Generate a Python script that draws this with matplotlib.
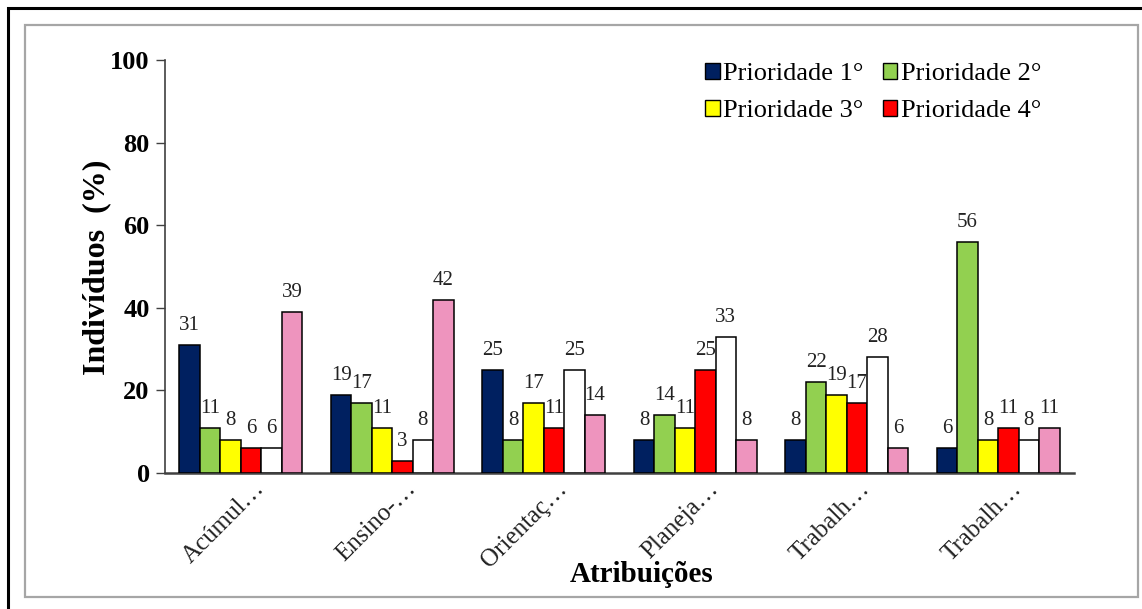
import matplotlib
matplotlib.use("Agg")
import matplotlib.pyplot as plt
import matplotlib.transforms as mtransforms
from matplotlib.patches import Rectangle, Patch
import numpy as np

# Data
categories = ["Acúmul…", "Ensino-…", "Orientaç…", "Planeja…", "Trabalh…", "Trabalh…"]
prioridade_1 = [31, 19, 25, 8, 8, 6]
prioridade_2 = [11, 17, 8, 14, 22, 56]
prioridade_3 = [8, 11, 17, 11, 19, 8]
prioridade_4 = [6, 3, 11, 25, 17, 11]
serie_5 = [6, 8, 25, 33, 28, 8]
serie_6 = [39, 42, 14, 8, 6, 11]
series_names = ["Prioridade 1°", "Prioridade 2°", "Prioridade 3°", "Prioridade 4°"]
y_ticks = [0, 20, 40, 60, 80, 100]

series = [prioridade_1, prioridade_2, prioridade_3, prioridade_4, serie_5, serie_6]
colors = ["#002060", "#92D050", "#FFFF00", "#FF0000", "#FFFFFF", "#EE94BE"]

W, H = 1142, 609
DPI = 100
plt.rcParams["font.family"] = ["Liberation Serif", "DejaVu Serif"]

fig = plt.figure(figsize=(W / DPI, H / DPI), dpi=DPI)
fig.patch.set_facecolor("white")


def fx(px):
    return px / W


def fy(py):
    return 1 - py / H


# Outer frames
fig.add_artist(Rectangle((fx(8), fy(640)), fx(1200), fy(8) - fy(640),
                         transform=fig.transFigure, fill=False,
                         edgecolor="black", linewidth=2.2))
fig.add_artist(Rectangle((fx(25), fy(597)), fx(1138) - fx(25), fy(25) - fy(597),
                         transform=fig.transFigure, fill=False,
                         edgecolor="#A6A6A6", linewidth=1.6))

ax = fig.add_axes([fx(165), fy(473), fx(1074) - fx(165), fy(60) - fy(473)])

x = np.arange(len(categories))
bar_w = 0.135
n = len(series)
for i, (vals, c) in enumerate(zip(series, colors)):
    pos = x + (i - (n - 1) / 2) * bar_w
    bars = ax.bar(pos, vals, width=bar_w, color=c, edgecolor="black",
                  linewidth=1.1, zorder=3)
    for b, v in zip(bars, vals):
        ax.annotate(f"{v}", (b.get_x() + b.get_width() / 2, v),
                    xytext=(0, 15), textcoords="offset pixels",
                    ha="center", va="baseline", fontsize=15, color="#222222")

ax.set_xlim(-0.5, len(categories) - 0.5)
ax.set_ylim(0, 100)
ax.set_yticks(y_ticks)
ax.set_yticklabels([str(t) for t in y_ticks], fontsize=19, fontweight="bold")
ax.tick_params(axis="y", direction="out", length=6.5, width=1.0, pad=4.5,
               color="#404040")
ax.set_xticks(x)
ax.set_xticklabels(categories, fontsize=18, rotation=45, ha="right",
                   va="center", rotation_mode="anchor", color="#222222")
ax.tick_params(axis="x", length=0, pad=9)
offset = mtransforms.ScaledTranslation(20 / DPI, 0, fig.dpi_scale_trans)
for lbl in ax.get_xticklabels():
    lbl.set_transform(lbl.get_transform() + offset)

for s in ["top", "right"]:
    ax.spines[s].set_visible(False)
ax.spines["left"].set_color("#404040")
ax.spines["bottom"].set_color("#404040")
ax.spines["left"].set_linewidth(1.2)
ax.spines["bottom"].set_linewidth(1.8)

fig.text(fx(97), fy(267), "Indivíduos  (%)", rotation=90, ha="center",
         va="center", fontsize=23, fontweight="bold")
fig.text(fx(642), fy(574), "Atribuições", ha="center", va="center",
         fontsize=21, fontweight="bold")

# Legend filled row by row
handles = [Patch(facecolor=c, edgecolor="black", linewidth=1.0)
           for c in colors[:4]]
order = [0, 2, 1, 3]
leg = ax.legend([handles[k] for k in order], [series_names[k] for k in order],
                ncol=2, loc="upper left",
                bbox_to_anchor=(fx(705), fy(63)),
                bbox_transform=fig.transFigure, frameon=False,
                fontsize=19, handlelength=0.55, handleheight=0.55,
                handletextpad=0.12, columnspacing=0.75, labelspacing=0.55,
                borderpad=0, borderaxespad=0)

fig.savefig("out.png", dpi=DPI, facecolor="white")
